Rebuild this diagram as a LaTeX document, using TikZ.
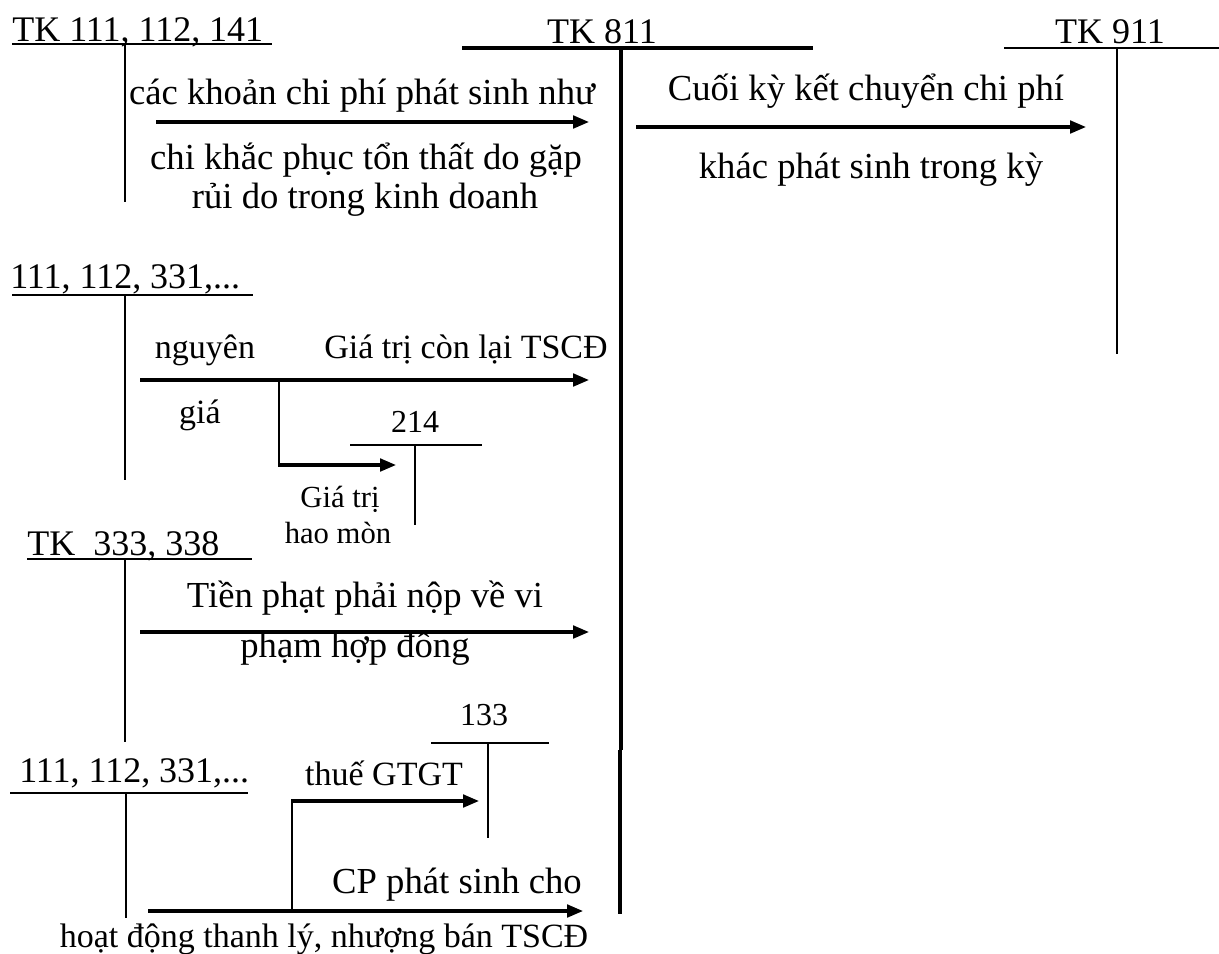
\documentclass[tikz,border=0pt]{standalone}
\usepackage{fontspec}
\setmainfont{Liberation Serif}
\usetikzlibrary{arrows.meta}
\begin{document}
\begin{tikzpicture}[x=0.75pt,y=-0.75pt,
  lbl/.style={inner sep=0pt, anchor=base, font=\fontsize{27.5}{30}\selectfont},
  acc/.style={inner sep=0pt, anchor=base west, font=\fontsize{27}{30}\selectfont},
  accc/.style={inner sep=0pt, anchor=base, font=\fontsize{27}{30}\selectfont},
  sm/.style={inner sep=0pt, anchor=base, font=\fontsize{25.5}{28}\selectfont},
  numl/.style={inner sep=0pt, anchor=base, font=\fontsize{24}{26}\selectfont},
  tiny/.style={inner sep=0pt, anchor=base, font=\fontsize{23}{26}\selectfont},
  tline/.style={line width=1.4pt},
  bigline/.style={line width=3pt},
  arr/.style={line width=2.3pt, -{Triangle[length=12pt,width=9.5pt]}}
]
\useasboundingbox (0,0) rectangle (1219,953);

% ---------- account labels ----------
\node[acc]  (tk111) at (12,41)   {TK 111, 112, 141};
\node[accc] (tk811) at (602,43)  {TK 811};
\node[accc] (tk911) at (1110,43) {TK 911};
\node[acc]  (acA)   at (10,288)  {111, 112, 331,...};
\node[acc]  (acB)   at (27,555)  {TK\ \ 333, 338};
\node[acc]  (acC)   at (19,782)  {111, 112, 331,...};
\node[numl] (n214)  at (415,432) {214};
\node[numl] (n133)  at (484,725) {133};

% ---------- coordinates ----------
\coordinate (u1a) at (12,44);   \coordinate (u1b) at (272,44);
\coordinate (v1a) at (125,44);  \coordinate (v1b) at (125,202);
\coordinate (h811a) at (462,48); \coordinate (h811b) at (813,48);
\coordinate (v811a) at (621,48); \coordinate (v811m) at (621,750);
\coordinate (v811c) at (620,750); \coordinate (v811b) at (620,914);
\coordinate (h911a) at (1004,48); \coordinate (h911b) at (1219,48);
\coordinate (v911a) at (1117,48); \coordinate (v911b) at (1117,354);
\coordinate (hAa) at (12,295);  \coordinate (hAb) at (253,295);
\coordinate (vAa) at (125,295); \coordinate (vAb) at (125,480);
\coordinate (h214a) at (350,445); \coordinate (h214b) at (482,445);
\coordinate (v214a) at (415,445); \coordinate (v214b) at (415,525);
\coordinate (hBa) at (27,559);  \coordinate (hBb) at (252,559);
\coordinate (vBa) at (125,559); \coordinate (vBb) at (125,742);
\coordinate (h133a) at (431,743); \coordinate (h133b) at (549,743);
\coordinate (v133a) at (488,743); \coordinate (v133b) at (488,838);
\coordinate (hCa) at (10,793);  \coordinate (hCb) at (248,793);
\coordinate (vCa) at (126,793); \coordinate (vCb) at (126,918);

% arrows
\coordinate (a1s) at (156,122); \coordinate (a1e) at (589,122);
\coordinate (a2s) at (636,127); \coordinate (a2e) at (1086,127);
\coordinate (a3s) at (140,380); \coordinate (a3e) at (589,380);
\coordinate (b3s) at (279,380); \coordinate (b3c) at (279,465); \coordinate (b3e) at (396,465);
\coordinate (a4s) at (140,632); \coordinate (a4e) at (589,632);
\coordinate (a5s) at (148,911); \coordinate (a5e) at (583,911);
\coordinate (b5s) at (292,911); \coordinate (b5c) at (292,801); \coordinate (b5e) at (479,801);

% ---------- T-account lines ----------
\draw[tline] (u1a) -- (u1b);
\draw[tline] (v1a) -- (v1b);
\draw[bigline] (h811a) -- (h811b);
\draw[line width=3.2pt] (v811a) -- (v811m);
\draw[line width=2.7pt] (v811c) -- (v811b);
\draw[line width=2pt] (h911a) -- (h911b);
\draw[tline] (v911a) -- (v911b);
\draw[tline] (hAa) -- (hAb);
\draw[tline] (vAa) -- (vAb);
\draw[tline] (h214a) -- (h214b);
\draw[tline] (v214a) -- (v214b);
\draw[tline] (hBa) -- (hBb);
\draw[tline] (vBa) -- (vBb);
\draw[tline] (h133a) -- (h133b);
\draw[tline] (v133a) -- (v133b);
\draw[tline] (hCa) -- (hCb);
\draw[tline] (vCa) -- (vCb);

% ---------- arrows ----------
\draw[arr] (a1s) -- (a1e);
\draw[arr] (a2s) -- (a2e);
\draw[arr] (a3s) -- (a3e);
\draw[tline] (b3s) -- ([yshift=-0.8pt]b3c);
\draw[arr] ([xshift=-0.7pt]b3c) -- (b3e);
\draw[arr] (a4s) -- (a4e);
\draw[arr] (a5s) -- (a5e);
\draw[tline] (b5s) -- ([yshift=0.8pt]b5c);
\draw[arr] ([xshift=-0.7pt]b5c) -- (b5e);

% ---------- texts ----------
\node[lbl] (t1) at (362,104) {các khoản chi phí phát sinh như};
\node[lbl] (t2) at (366,169) {chi khắc phục tổn thất do gặp};
\node[lbl] (t3) at (365,208) {rủi do trong kinh doanh};
\node[lbl] (t4) at (866,100) {Cuối kỳ kết chuyển chi phí};
\node[lbl] (t5) at (871,178) {khác phát sinh trong kỳ};
\node[sm]  (t6) at (205,358) {nguyên};
\node[sm]  (t7) at (466,358) {Giá trị còn lại TSCĐ};
\node[sm]  (t8) at (200,423) {giá};
\node[tiny] (t9) at (340,507) {Giá trị};
\node[tiny] (t10) at (338,543) {hao mòn};
\node[lbl] (t11) at (365,607) {Tiền phạt phải nộp về vi};
\node[lbl] (t12) at (355,657) {phạm hợp đồng};
\node[sm]  (t13) at (384,785) {thuế GTGT};
\node[lbl] (t14) at (457,893) {CP phát sinh cho};
\node[sm]  (t15) at (324,947) {hoạt động thanh lý, nhượng bán TSCĐ};
\end{tikzpicture}
\end{document}
